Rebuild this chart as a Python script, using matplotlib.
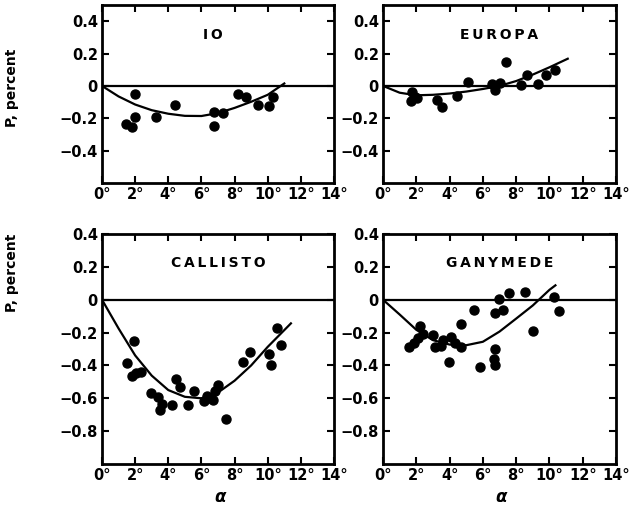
import numpy as np
import matplotlib
matplotlib.use('Agg')
import matplotlib.pyplot as plt

# phase angle (deg) and polarization (percent) for each satellite
io_alpha = [1.42, 1.82, 2.02, 1.98, 3.28, 4.42, 6.78, 6.78, 7.32, 8.22, 8.66, 9.42, 10.1, 10.34]
io_p = [-0.234, -0.255, -0.19, -0.05, -0.19, -0.12, -0.16, -0.25, -0.17, -0.053, -0.07, -0.12, -0.127, -0.07]

europa_alpha = [1.77, 1.91, 1.71, 2.07, 3.22, 3.52, 4.47, 5.13, 6.54, 6.70, 7.04, 7.40, 8.29, 8.65, 9.30, 9.82, 10.36]
europa_p = [-0.035, -0.067, -0.094, -0.077, -0.088, -0.133, -0.062, 0.027, 0.012, -0.025, 0.017, 0.146, 0.006, 0.065, 0.010, 0.069, 0.096]

callisto_alpha = [1.53, 1.93, 1.79, 2.07, 2.33, 2.93, 3.39, 3.53, 3.63, 4.24, 4.48, 4.68, 5.2, 5.58,
                  6.14, 6.35, 6.5, 6.71, 6.81, 7.01, 7.51, 8.49, 8.96, 10.1, 10.2, 10.56, 10.82]
callisto_p = [-0.386, -0.253, -0.462, -0.446, -0.437, -0.565, -0.591, -0.673, -0.636, -0.643, -0.483, -0.534, -0.64, -0.558,
              -0.616, -0.585, -0.6, -0.612, -0.554, -0.52, -0.725, -0.38, -0.318, -0.333, -0.40, -0.175, -0.273]

ganymede_alpha = [1.55, 1.85, 2.1, 2.25, 2.4, 3.0, 3.1, 3.5, 3.6, 4.1, 4.35, 4.7, 4.69, 3.98, 5.47, 5.84,
                  6.64, 6.74, 6.7, 6.74, 6.94, 7.2, 7.6, 8.51, 9.01, 10.3, 10.56]
ganymede_p = [-0.29, -0.265, -0.235, -0.16, -0.21, -0.215, -0.285, -0.28, -0.245, -0.225, -0.265, -0.29, -0.146, -0.377, -0.065, -0.412,
              -0.36, -0.298, -0.398, -0.083, 0.004, -0.065, 0.04, 0.046, -0.19, 0.015, -0.069]

# fitted curves, sampled once per degree
io_fit_alpha = [0, 1, 2, 3, 4, 5, 6, 7, 8, 9, 10, 11]
io_fit_p = [0, -0.065, -0.115, -0.15, -0.172, -0.185, -0.186, -0.168, -0.136, -0.098, -0.055, 0.015]

europa_fit_alpha = [0, 1, 2, 3, 4, 5, 6, 7, 8, 9, 10, 11.1]
europa_fit_p = [0, -0.042, -0.058, -0.055, -0.047, -0.035, -0.019, 0.0, 0.03, 0.07, 0.115, 0.168]

callisto_fit_alpha = [0, 1, 2, 3, 4, 5, 6, 7, 8, 9, 10, 11, 11.4]
callisto_fit_p = [0, -0.175, -0.339, -0.462, -0.55, -0.591, -0.6, -0.565, -0.493, -0.4, -0.287, -0.185, -0.144]

ganymede_fit_alpha = [0, 1, 2, 3, 4, 5, 6, 7, 8, 9, 10, 10.36]
ganymede_fit_p = [0, -0.09, -0.183, -0.246, -0.273, -0.277, -0.256, -0.194, -0.115, -0.035, 0.06, 0.0875]

names = ['IO', 'EUROPA', 'CALLISTO', 'GANYMEDE']
xticks = [0, 2, 4, 6, 8, 10, 12, 14]
yticks_top = [0.4, 0.2, 0, -0.2, -0.4]
yticks_bot = [0.4, 0.2, 0, -0.2, -0.4, -0.6, -0.8]

plt.rcParams['font.family'] = 'DejaVu Sans'
plt.rcParams['font.weight'] = 'bold'

fig = plt.figure(figsize=(6.31, 5.08), dpi=100)

rects = [
    [102/631, 1 - 183/508, 232/631, 178/508],
    [383/631, 1 - 183/508, 233/631, 178/508],
    [102/631, 1 - 464/508, 232/631, 230/508],
    [383/631, 1 - 464/508, 233/631, 230/508],
]
pts = [(io_alpha, io_p), (europa_alpha, europa_p), (callisto_alpha, callisto_p), (ganymede_alpha, ganymede_p)]
fits = [(io_fit_alpha, io_fit_p), (europa_fit_alpha, europa_fit_p),
        (callisto_fit_alpha, callisto_fit_p), (ganymede_fit_alpha, ganymede_fit_p)]
title_y = [0.83, 0.83, 0.875, 0.875]
title_x = [0.48, 0.5, 0.5, 0.5]


def ylab(v):
    if v == 0:
        return '0'
    return ('%.1f' % v).replace('-', '\u2212')


for i in range(4):
    ax = fig.add_axes(rects[i])
    a, p = pts[i]
    fa, fp = fits[i]
    ax.axhline(0, color='black', lw=1.6)
    ax.plot(fa, fp, color='black', lw=1.6)
    ax.plot(a, p, 'o', color='black', ms=6.5, mec='black')
    ax.set_xlim(0, 14)
    if i < 2:
        ax.set_ylim(-0.6, 0.5)
        yt = yticks_top
    else:
        ax.set_ylim(-1.0, 0.4)
        yt = yticks_bot
    ax.set_xticks(xticks)
    ax.set_xticklabels(['%d\u00b0' % x for x in xticks])
    ax.set_yticks(yt)
    ax.set_yticklabels([ylab(v) for v in yt])
    ax.tick_params(direction='in', length=5, width=1.5, top=True, right=True,
                   labelsize=10.5, pad=3)
    for s in ax.spines.values():
        s.set_linewidth(2)
    ax.text(title_x[i], title_y[i], '\u2009'.join(names[i]), transform=ax.transAxes,
            ha='center', va='center', fontsize=10, fontweight='bold')

fig.text(12/631, 1 - 88/508, 'P, percent', rotation=90, ha='center', va='center',
         fontsize=10, fontweight='bold')
fig.text(12/631, 1 - 273/508, 'P, percent', rotation=90, ha='center', va='center',
         fontsize=10, fontweight='bold')
fig.text(221/631, 1 - 497/508, r'$\alpha$', ha='center', va='center', fontsize=12)
fig.text(502/631, 1 - 497/508, r'$\alpha$', ha='center', va='center', fontsize=12)

fig.savefig('out.png', dpi=100)
